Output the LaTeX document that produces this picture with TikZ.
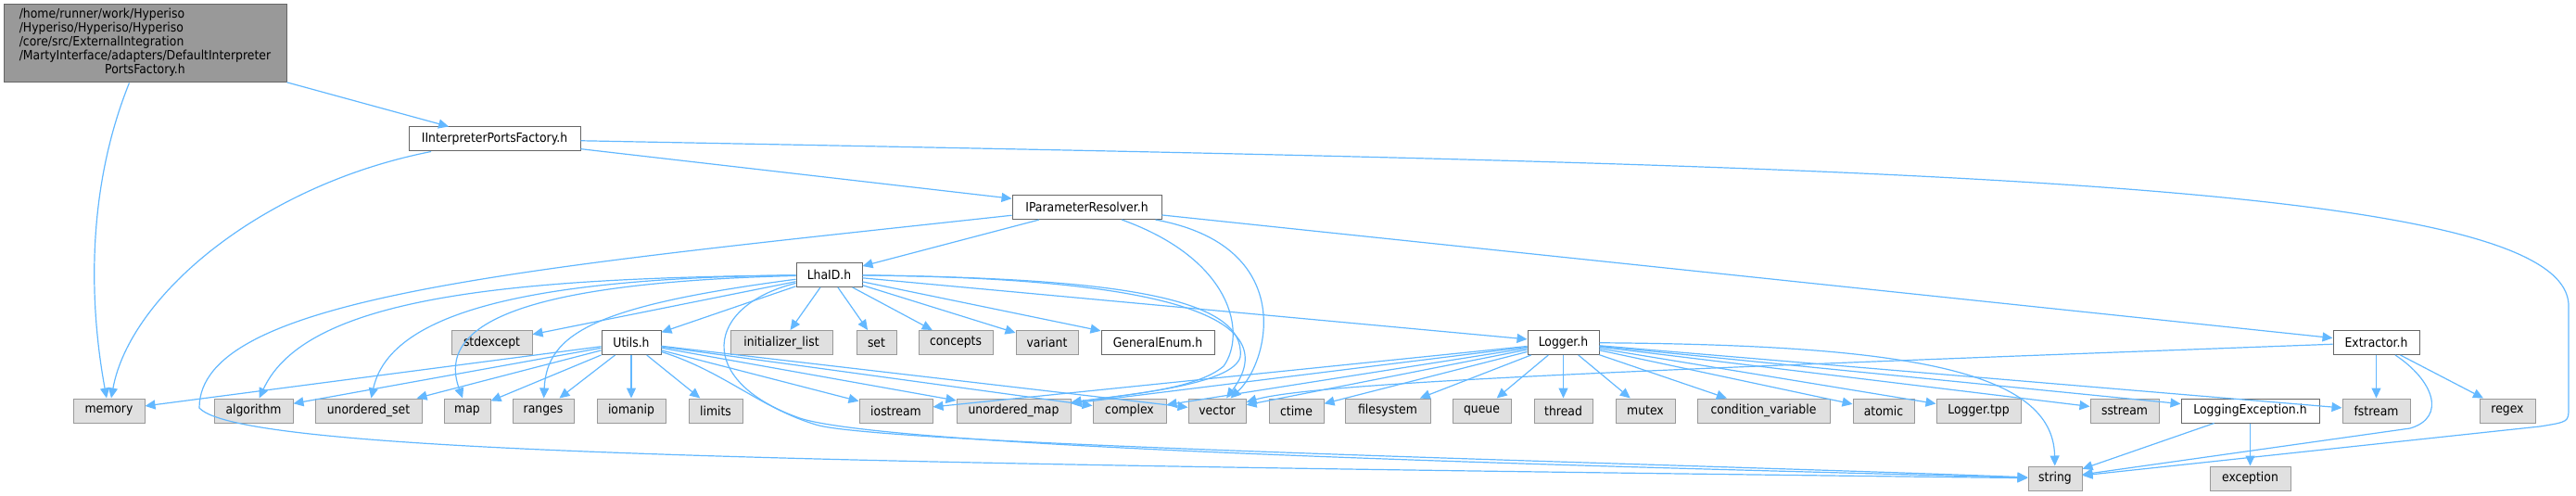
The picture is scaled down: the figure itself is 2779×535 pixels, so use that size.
\documentclass[tikz,border=0pt]{standalone}
\usepackage{fontspec}
\setmainfont{DejaVu Sans}[FakeStretch=0.9]
\usetikzlibrary{arrows.meta}

\definecolor{edgeblue}{HTML}{63B8FF}
\definecolor{extfill}{HTML}{E0E0E0}
\definecolor{extline}{HTML}{999999}
\definecolor{intline}{HTML}{666666}
\definecolor{rootfill}{HTML}{999999}

\begin{document}
\begin{tikzpicture}[x=0.5pt,y=-0.5pt,
  hdr/.style={draw=intline,fill=white,line width=0.5pt,inner sep=0pt,
    minimum height=13pt,font=\fontsize{6.9}{7.5}\selectfont},
  sys/.style={hdr,draw=extline,fill=extfill},
  mainfile/.style={hdr,draw=intline,fill=rootfill},
  wd/.style={minimum width=#1*0.5pt},
  dep/.style={draw=edgeblue,line width=0.6pt,-{Triangle[length=5.5pt,width=5pt]}}]
\useasboundingbox (0,0) rectangle (2779,535);

% headers of the project
\node[mainfile,wd=305,minimum height=42pt] (root) at (156.5,47)
  {\begin{tabular}{@{}l@{}}/home/runner/work/Hyperiso\\/Hyperiso/Hyperiso/Hyperiso\\
   /core/src/ExternalIntegration\\/MartyInterface/adapters/DefaultInterpreter\\
   \multicolumn{1}{@{}c@{}}{PortsFactory.h}\end{tabular}};
\node[hdr,wd=185] (iipf) at (533.5,150) {IInterpreterPortsFactory.h};
\node[hdr,wd=161] (ipr) at (1172.5,223.5) {IParameterResolver.h};
\node[hdr,wd=71] (lhaid) at (894.5,296.5) {LhaID.h};
\node[hdr,wd=64] (utils) at (681,369.5) {Utils.h};
\node[hdr,wd=122] (genenum) at (1249,369.5) {GeneralEnum.h};
\node[hdr,wd=77] (logger) at (1686.5,369.5) {Logger.h};
\node[hdr,wd=93] (extractor) at (2563.5,369.5) {Extractor.h};
\node[hdr,wd=149] (logexc) at (2427.5,443) {LoggingException.h};

% system headers
\node[sys,wd=87] (stdexcept) at (530.5,369.5) {stdexcept};
\node[sys,wd=110] (initlist) at (843,369.5) {initializer\_list};
\node[sys,wd=43] (set) at (945.5,369.5) {set};
\node[sys,wd=80] (concepts) at (1031,369.5) {concepts};
\node[sys,wd=67] (variant) at (1129.5,369.5) {variant};
\node[sys,wd=77] (memory) at (117.5,443) {memory};
\node[sys,wd=85] (algorithm) at (273.5,443) {algorithm};
\node[sys,wd=115] (uset) at (397.5,443) {unordered\_set};
\node[sys,wd=50] (map) at (504,443) {map};
\node[sys,wd=66] (ranges) at (586,443) {ranges};
\node[sys,wd=74] (iomanip) at (681,443) {iomanip};
\node[sys,wd=58] (limits) at (772,443) {limits};
\node[sys,wd=79] (iostream) at (966.5,443) {iostream};
\node[sys,wd=123] (umap) at (1093.5,443) {unordered\_map};
\node[sys,wd=79] (complex) at (1218.5,443) {complex};
\node[sys,wd=62] (vector) at (1313,443) {vector};
\node[sys,wd=59] (ctime) at (1398.5,443) {ctime};
\node[sys,wd=92] (filesystem) at (1497,443) {filesystem};
\node[sys,wd=63] (queue) at (1598.5,443) {queue};
\node[sys,wd=63] (thread) at (1686.5,443) {thread};
\node[sys,wd=64] (mutex) at (1775,443) {mutex};
\node[sys,wd=143] (condvar) at (1902.5,443) {condition\_variable};
\node[sys,wd=66] (atomic) at (2032,443) {atomic};
\node[sys,wd=91] (loggertpp) at (2134.5,443) {Logger.tpp};
\node[sys,wd=74] (sstream) at (2292,443) {sstream};
\node[sys,wd=73] (fstream) at (2563.5,443) {fstream};
\node[sys,wd=60] (regex) at (2705,443) {regex};
\node[sys,wd=58] (string) at (2217,516) {string};
\node[sys,wd=87] (exception) at (2427.5,516) {exception};

% includes
\draw[dep] (root) -- (iipf);
\draw[dep] (root) .. controls (95,200) and (95,320) .. (memory);
\draw[dep] (iipf) .. controls (280,200) and (140,320) .. (memory);
\draw[dep] (iipf) -- (ipr);
\draw[dep] (iipf) .. controls (2000,178) and (2771,190) .. (2771,330) -- (2771,440)
  .. controls (2771,455) .. (2740,460) -- (string);

\draw[dep] (ipr) -- (lhaid);
\draw[dep] (ipr) -- (extractor);
\draw[dep] (ipr) .. controls (560,290) and (215,320) .. (215,440)
  .. controls (260,490) and (900,500) .. (string);
\draw[dep] (ipr) .. controls (1330,280) and (1345,360) .. (1320,395)
  .. controls (1290,420) and (1220,425) .. (umap);
\draw[dep] (ipr) .. controls (1400,265) and (1370,390) .. (vector);

\foreach \t in {stdexcept,utils,initlist,set,concepts,variant,genenum,logger}
  \draw[dep] (lhaid) -- (\t);
\draw[dep] (lhaid) .. controls (550,300) and (330,320) .. (algorithm);
\draw[dep] (lhaid) .. controls (560,300) and (420,340) .. (uset);
\draw[dep] (lhaid) .. controls (560,305) and (470,350) .. (map);
\draw[dep] (lhaid) .. controls (640,330) and (590,360) .. (ranges);
\draw[dep] (lhaid) .. controls (1200,300) and (1345,320) .. (1338,385)
  .. controls (1330,415) and (1220,425) .. (umap);
\draw[dep] (lhaid) .. controls (1250,300) and (1390,340) .. (vector);
\draw[dep] (lhaid) .. controls (760,330) and (750,410) .. (860,450)
  .. controls (950,485) and (1800,505) .. (string);

\foreach \t in {memory,algorithm,uset,map,ranges,iomanip,limits,iostream,umap,complex,vector}
  \draw[dep] (utils) -- (\t);
\draw[dep] (utils) .. controls (780,400) and (820,440) .. (880,458)
  .. controls (950,480) and (1800,500) .. (string);

\foreach \t in {iostream,umap,complex,vector,ctime,filesystem,queue,thread,mutex,condvar,atomic,loggertpp,sstream,logexc,fstream}
  \draw[dep] (logger) -- (\t);
\draw[dep] (logger) .. controls (2060,372) and (2215,400) .. (string);

\draw[dep] (extractor) -- (fstream);
\draw[dep] (extractor) -- (regex);
\draw[dep] (extractor) .. controls (1800,398) and (1420,412) .. (vector);
\draw[dep] (extractor) .. controls (2625,410) and (2640,450) .. (2600,462) -- (string);

\draw[dep] (logexc) -- (string);
\draw[dep] (logexc) -- (exception);
\end{tikzpicture}
\end{document}
